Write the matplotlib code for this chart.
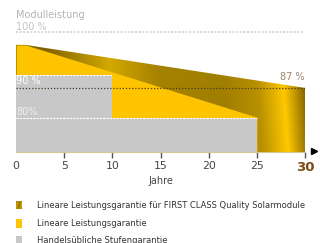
import numpy as np
import matplotlib
matplotlib.use('Agg')
import matplotlib.pyplot as plt
from matplotlib.colors import LinearSegmentedColormap
from matplotlib.patches import Rectangle

# Daten
jahre_ticks = [0, 5, 10, 15, 20, 25, 30]
jahre_first_class = [0, 1, 30]
werte_first_class = [97, 97, 87]
jahre_linear = [0, 1, 25]
werte_linear = [97, 97, 80.2]
stufen_jahre = [0, 10, 10, 25]
stufen_werte = [90, 90, 80, 80]
legende = ['Lineare Leistungsgarantie für FIRST CLASS Quality Solarmodule',
           'Lineare Leistungsgarantie',
           'Handelsübliche Stufengarantie']

W, H = 320, 243
Y_MIN, Y_MAX = 72, 100
GELB = '#FFC400'
GRAU = '#C8C8C8'
gold_cmap = LinearSegmentedColormap.from_list('gold', [
    (0.0, '#7C5E00'), (0.12, '#846500'), (0.33, '#D2A800'), (0.5, '#A58200'),
    (0.72, '#A07E00'), (0.84, '#B89000'), (0.93, '#FFC800'), (1.0, '#8C6C00')])

plt.rcParams['font.family'] = ['DejaVu Sans']
fig = plt.figure(figsize=(W / 100, H / 100), dpi=100)

def fx(x):
    return x / W

def fy(y):
    return 1 - y / H

ax = fig.add_axes([fx(16), fy(152.4), fx(305) - fx(16), fy(32) - fy(152.4)])
ax.set_xlim(0, 30)
ax.set_ylim(Y_MIN, Y_MAX)

# FIRST CLASS (Gold mit Verlauf)
poly = ax.fill_between(jahre_first_class, Y_MIN, werte_first_class, color='none', lw=0)
xx, yy = np.meshgrid(np.linspace(0, 1, 400), np.linspace(0, 1, 100))
u = np.clip(xx + 0.03 * (yy - 0.5), 0, 1)
img = ax.imshow(gold_cmap(u), extent=(0, 30, Y_MIN, Y_MAX), origin='lower',
                aspect='auto', zorder=1)
img.set_clip_path(poly.get_paths()[0], transform=ax.transData)

# Lineare Garantie
ax.fill_between(jahre_linear, Y_MIN, werte_linear, color=GELB, lw=0, zorder=2)

# Stufengarantie
ax.fill_between(stufen_jahre, Y_MIN, stufen_werte, color=GRAU, lw=0, zorder=3)
ax.plot([0, 10], [90, 90], color='white', ls=(0, (2, 1)), lw=0.8, zorder=4)
ax.plot([0, 25], [80, 80], color='white', ls=(0, (2, 1)), lw=0.8, zorder=4)

# Referenzlinien
ax.plot([0, 30], [100, 100], color='#D0D0D0', ls=(0, (1, 1)), lw=1.3, zorder=4, clip_on=False)
ax.plot([0, 30], [87, 87], color='#4A3A2A', ls=(0, (1, 1.5)), lw=0.9, zorder=5)

ax.text(0.05, 88.5, '90 %', color='white', fontsize=7, va='center', ha='left', zorder=6)
ax.text(0.05, 81.3, '80%', color='#EEEEEE', fontsize=7, va='center', ha='left', zorder=6)
ax.text(30, 89.5, '87 %', color='#A08268', fontsize=7, va='center', ha='right', zorder=6)
fig.text(fx(16), fy(27), '100 %', color='#C4C4C4', fontsize=7, va='center', ha='left')
fig.text(fx(16), fy(15.5), 'Modulleistung', color='#B4B4B4', fontsize=7, va='center', ha='left')

# Achsen
for s in ['top', 'right', 'left']:
    ax.spines[s].set_visible(False)
ax.spines['bottom'].set_color('#D8C890')
ax.spines['bottom'].set_linewidth(0.8)
ax.set_yticks([])
ax.set_xticks(jahre_ticks)
ax.set_xticklabels([str(j) for j in jahre_ticks])
ax.tick_params(axis='x', length=4.5, width=1, color='#555555', pad=1.5,
               labelsize=7.8, labelcolor='#444444')
ax.xaxis.get_major_ticks()[0].tick1line.set_visible(False)
lbl = ax.get_xticklabels()[-1]
lbl.set_fontweight('bold')
lbl.set_fontsize(9.5)
lbl.set_color('#7A4A14')
ax.plot([30.9], [Y_MIN + 0.3], marker='>', color='black', ms=4.5, clip_on=False)
fig.text(fx(160.5), fy(181), 'Jahre', color='#444444', fontsize=7, ha='center', va='center')

# Legende
leg_y = [205, 223, 240]
for i, (txt, y) in enumerate(zip(legende, leg_y)):
    if i == 0:
        lax = fig.add_axes([fx(16), fy(y + 4.5), 6 / W, 9 / H])
        g = np.linspace(0, 1, 30)[None, :] + np.linspace(0, 0.4, 30)[:, None]
        lax.imshow(gold_cmap(np.clip(g * 0.7 + 0.1, 0, 1)), aspect='auto')
        lax.axis('off')
    else:
        fig.add_artist(Rectangle((fx(16), fy(y + 4.5)), 6 / W, 9 / H,
                                 transform=fig.transFigure,
                                 color=GELB if i == 1 else GRAU, lw=0))
    fig.text(fx(37), fy(y), txt, color='#333333', fontsize=6.0, va='center', ha='left')

fig.savefig('out.png', dpi=100)
